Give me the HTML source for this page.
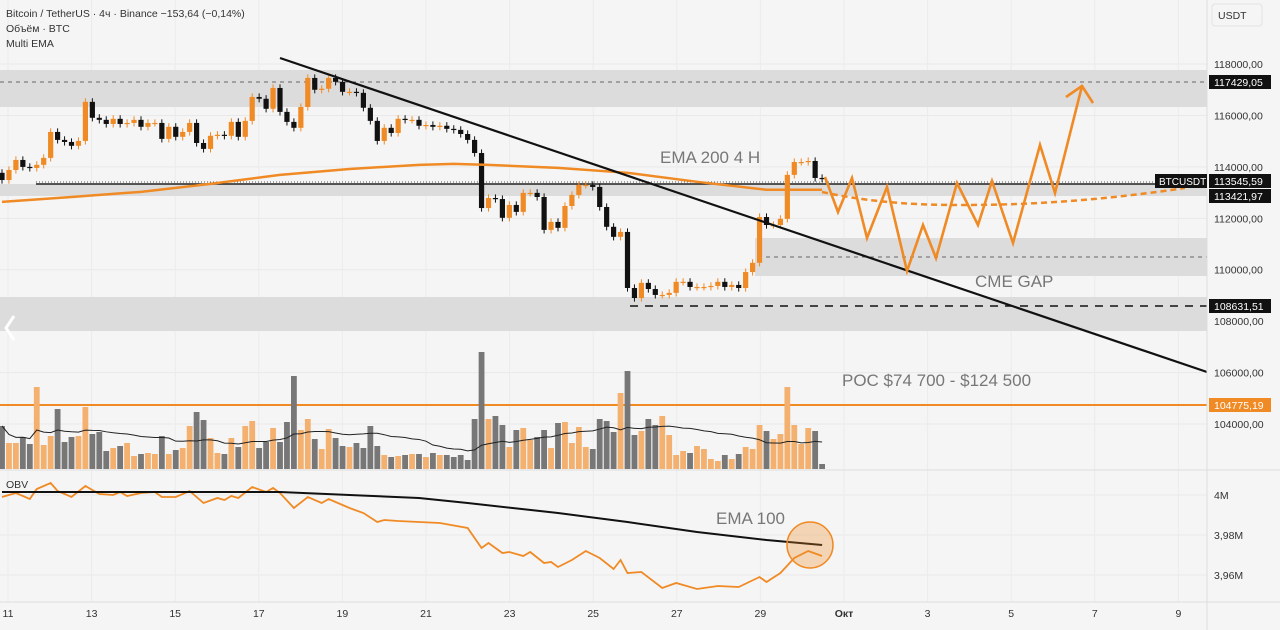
<!DOCTYPE html>
<html><head><meta charset="utf-8"><style>
html,body{margin:0;padding:0;background:#f5f5f5;}
svg{display:block;font-family:"Liberation Sans","DejaVu Sans",sans-serif;}
</style></head><body>
<svg id="chart" width="1280" height="630" viewBox="0 0 1280 630">
<rect x="0" y="0" width="1280" height="630" fill="#f5f5f5"/>
<g id="grid"></g>
<g id="zones">
  <rect x="0" y="70" width="1207" height="37" fill="#dcdcdd"/>
  <line x1="0" y1="82" x2="1207" y2="82" stroke="#666" stroke-width="1" stroke-dasharray="4,4"/>
  <rect x="0" y="184" width="1207" height="12" fill="#dcdcdd"/>
  <rect x="755" y="238" width="452" height="38" fill="#dcdcdd"/>
  <line x1="766" y1="257" x2="1207" y2="257" stroke="#666" stroke-width="1" stroke-dasharray="4,4"/>
  <rect x="0" y="297" width="1207" height="34" fill="#dcdcdd"/>
  <line x1="630" y1="306" x2="1207" y2="306" stroke="#111" stroke-width="1.5" stroke-dasharray="8,7"/>
  <line x1="36" y1="182" x2="1155" y2="182" stroke="#555" stroke-width="1" stroke-dasharray="1,2"/>
  <line x1="36" y1="184" x2="1155" y2="184" stroke="#222" stroke-width="1.5"/>
  <line x1="0" y1="405" x2="1207" y2="405" stroke="#f08a24" stroke-width="2"/>
</g>
<g id="vol"></g>
<g id="candles"></g>
<g id="overlay"></g>
<g>
  <line x1="280" y1="58" x2="1207" y2="372" stroke="#111" stroke-width="2.2"/>
  <polyline points="825,177 838,212 852,178 867,238 887,187 907,271 923,225 936,258 957,183 978,225 992,181 1013,243 1040,145 1055,193 1082,86" fill="none" stroke="#f08a24" stroke-width="2.6" stroke-linejoin="miter"/>
  <polyline points="1066,97 1082,86 1093,103" fill="none" stroke="#f08a24" stroke-width="2.6"/>
  <path d="M822,192 C860,200 900,205 960,205 C1020,205 1090,202 1185,188" fill="none" stroke="#f08a24" stroke-width="2.5" stroke-dasharray="6,4"/>
  <text x="660" y="163" font-size="17" fill="#777">EMA 200 4 H</text>
  <text x="975" y="287" font-size="17" fill="#777">CME GAP</text>
  <text x="842" y="386" font-size="17" fill="#777">POC $74 700 - $124 500</text>
  <text x="716" y="524" font-size="17" fill="#777">EMA 100</text>
  <circle cx="810" cy="545" r="23" fill="rgba(240,138,36,0.3)" stroke="#f08a24" stroke-width="1.5"/>
  <polyline points="14,316 6,328 14,340" fill="none" stroke="#fff" stroke-width="3"/>
</g>
<g font-size="10.5" fill="#333">
  <text x="6" y="17">Bitcoin / TetherUS · 4ч · Binance  −153,64 (−0,14%)</text>
  <text x="6" y="32">Объём · BTC</text>
  <text x="6" y="47">Multi EMA</text>
  <text x="6" y="488">OBV</text>
</g>
<line x1="0" y1="470" x2="1280" y2="470" stroke="#ddd"/>
<line x1="0" y1="602" x2="1280" y2="602" stroke="#ddd"/>
<line x1="1207" y1="0" x2="1207" y2="630" stroke="#ddd"/>
<g id="axes">
  <rect x="1212" y="4" width="50" height="22" rx="3" fill="#f5f5f5" stroke="#e2e2e2"/>
  <text x="1218" y="19" font-size="10.5" fill="#333">USDT</text>
</g>
<g id="tags">
  <rect x="1209" y="75" width="62" height="14" fill="#111"/>
  <text x="1214" y="86" font-size="10.5" fill="#fff">117429,05</text>
  <rect x="1155" y="174" width="52" height="14" fill="#111"/>
  <text x="1159" y="185" font-size="10" fill="#fff">BTCUSDT</text>
  <rect x="1209" y="174" width="62" height="14" fill="#111"/>
  <text x="1214" y="185" font-size="10.5" fill="#fff">113545,59</text>
  <rect x="1209" y="189" width="62" height="14" fill="#111"/>
  <text x="1214" y="200" font-size="10.5" fill="#fff">113421,97</text>
  <rect x="1209" y="299" width="62" height="14" fill="#111"/>
  <text x="1214" y="310" font-size="10.5" fill="#fff">108631,51</text>
  <rect x="1209" y="398" width="62" height="14" fill="#f08a24"/>
  <text x="1214" y="409" font-size="10.5" fill="#fff">104775,19</text>
</g>
</svg>
<script>
const closes = [113490,113880,114270,114000,113960,114080,114350,115360,115050,114970,
114820,115010,116530,115910,115830,115670,115870,115670,115710,115830,
115560,115710,115710,115090,115560,115170,115360,115710,114930,114700,
115210,115250,115210,115750,115170,115790,116720,116650,116260,117070,
116140,115750,115520,116330,117460,117000,117040,117460,117310,116920,
116920,116880,116300,115790,115010,115520,115320,115870,115830,115830,
115600,115630,115560,115600,115480,115440,115280,115050,114540,112400,
112790,112750,112020,112520,112250,112990,112990,112830,111550,111860,
111630,112480,112910,113300,113300,113220,112440,111670,111280,111470,
109290,108900,109490,109250,109020,109020,109100,109530,109530,109330,
109330,109330,109370,109530,109330,109410,109290,109910,110270,112050,
111740,111740,111980,113690,114190,114190,114230,113570,113540];
const firstOpen = 113770;
const volumes = [43,26,26,32,25,82,24,33,60,27,32,33,62,35,37,18,21,23,26,13,15,16,15,33,15,19,21,43,57,49,31,16,15,31,22,43,48,21,27,41,27,47,93,39,50,30,20,40,31,23,22,26,21,43,23,14,12,13,14,15,
15,12,16,14,14,12,14,9,50,117,50,53,44,22,39,41,29,32,39,21,46,47,26,42,22,20,50,48,37,76,98,34,38,50,44,53,34,14,18,16,23,20,10,8,14,10,15,22,20,44,38,30,35,82,44,25,41,38,5];
const emaIdx = [0,10,20,30,40,50,60,65,70,80,90,100,110,118];
const emaVals = [112640,112830,113030,113340,113690,113920,114080,114120,114080,113960,113770,113420,113110,113110];
const obvIdx = [0,2,4,5,7,8,10,12,14,16,17,18,20,22,23,25,27,29,31,32,33,34,36,38,39,40,42,44,46,47,50,52,54,55,57,60,63,67,69,70,72,73,75,76,78,79,80,82,84,86,88,89,90,92,95,97,100,103,106,109,110,112,114,116,118];
const obvVals = [3999,4001,3998,4003,4006,4002,3999,4004.5,4000.5,4000,4001.5,3999.5,4001,4001.5,3999,3999,4002,3996,3998.5,3997.5,3999.5,3998.5,4004,4001.5,4003.5,4001,3993.5,3999,3996,3998,3993.5,3991,3986.5,3987.5,3987,3986.5,3986,3983.5,3973.5,3976,3971,3971.5,3969.5,3971.5,3966,3966.5,3964,3967.5,3972,3968.5,3963,3967.5,3961,3961.5,3953.5,3956,3953,3954.5,3954,3959,3956.5,3961,3968.5,3972,3969.5];
const obvEmaIdx = [0,40,50,60,67,80,90,100,110,118];
const obvEmaVals = [4001.5,4001.5,4000,3998.5,3996,3991,3986.5,3981.5,3977.5,3975];
const priceTicks = [118000,116000,114000,112000,110000,108000,106000,104000];
const priceTickLabels = ["118000,00","116000,00","114000,00","112000,00","110000,00","108000,00","106000,00","104000,00"];
const obvTicks = [4000,3980,3960];
const obvTickLabels = ["4M","3,98M","3,96M"];
const dateTicks = [11,13,15,17,19,21,23,25,27,29,31,33,35,37,39];
const dateLabels = ["11","13","15","17","19","21","23","25","27","29","Окт","3","5","7","9"];

const NS = "http://www.w3.org/2000/svg";
const py = p => 424 - (p - 104000) * 0.02571;
const cx = i => 2 + i * 6.95;
const vy = v => 469 - v;
const oy = v => 495 - (v - 4000) * 2;
const dx = d => 8 + (d - 11) * 41.8;
function mk(tag, attrs, parent) {
  const el = document.createElementNS(NS, tag);
  for (const k in attrs) el.setAttribute(k, attrs[k]);
  parent.appendChild(el);
  return el;
}
const grid = document.getElementById('grid');
const axes = document.getElementById('axes');
priceTicks.forEach((p, k) => {
  const ln = mk('line', {x1:0, x2:1207, y1:py(p), y2:py(p), stroke:'#e9e9e9'}, grid);
  
  
  const t = mk('text', {x:1214, y:py(p) + 4, 'font-size':10.5, fill:'#333'}, axes);
  t.textContent = priceTickLabels[k];
  
  
});
obvTicks.forEach((v, k) => {
  const ln = mk('line', {x1:0, x2:1207, y1:oy(v), y2:oy(v), stroke:'#e9e9e9'}, grid);
  
  
  const t = mk('text', {x:1214, y:oy(v) + 4, 'font-size':10.5, fill:'#333'}, axes);
  t.textContent = obvTickLabels[k];
  
  
});
dateTicks.forEach((d, k) => {
  const ln = mk('line', {x1:dx(d), x2:dx(d), y1:0, y2:602, stroke:'#ececec'}, grid);
  
  
  const t = mk('text', {x:dx(d), y:617, 'font-size':10.5, fill:'#333', 'text-anchor':'middle', 'font-weight': dateLabels[k] === 'Окт' ? 'bold' : 'normal'}, axes);
  t.textContent = dateLabels[k];
  
  
});
const cg = document.getElementById('candles');
const vg = document.getElementById('vol');
closes.forEach((c, i) => {
  const o = i === 0 ? firstOpen : closes[i - 1];
  const up = c >= o;
  const col = up ? '#f08a24' : '#111';
  const x = cx(i);
  const hi = Math.max(o, c) + 140, lo = Math.min(o, c) - 140;
  const w = mk('line', {x1:x, x2:x, y1:py(hi), y2:py(lo), stroke:col, 'stroke-width':1}, cg);
  
  
  const top = py(Math.max(o, c)), bot = py(Math.min(o, c));
  const b = mk('rect', {x:x - 2.6, y:top, width:5.2, height:Math.max(1.2, bot - top), fill:col}, cg);
  
  
  const v = volumes[i];
  const vb = mk('rect', {x:x - 2.9, y:vy(v), width:5.8, height:v, fill: up ? '#f4b06e' : '#777'}, vg);
  
  
});
const ov = document.getElementById('overlay');
// volume SMA
let smaPts = [];
volumes.forEach((v, i) => {
  const s = volumes.slice(Math.max(0, i - 19), i + 1);
  const m = s.reduce((a, b) => a + b, 0) / s.length;
  smaPts.push(cx(i) + ',' + vy(m));
});
const sma = mk('polyline', {points:smaPts.join(' '), fill:'none', stroke:'#222', 'stroke-width':1}, ov);


const ema = mk('polyline', {points:emaIdx.map((d, k) => cx(d) + ',' + py(emaVals[k])).join(' '), fill:'none', stroke:'#f08a24', 'stroke-width':2.5, 'stroke-linejoin':'round'}, ov);


const obv = mk('polyline', {points:obvIdx.map((d, k) => cx(d) + ',' + oy(obvVals[k])).join(' '), fill:'none', stroke:'#f08a24', 'stroke-width':1.8}, ov);


const obvEma = mk('polyline', {points:obvEmaIdx.map((d, k) => cx(d) + ',' + oy(obvEmaVals[k])).join(' '), fill:'none', stroke:'#111', 'stroke-width':2}, ov);


</script>
</body></html>
